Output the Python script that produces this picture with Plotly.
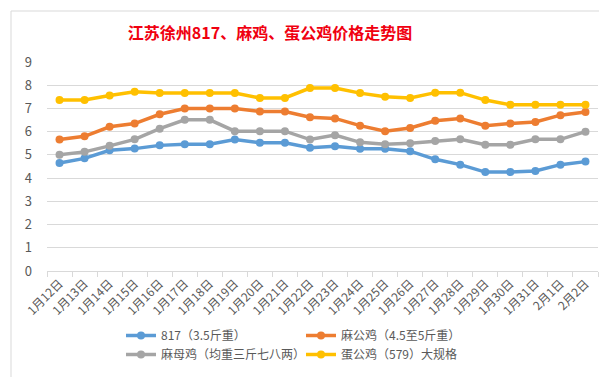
import plotly.graph_objects as go

categories = ["1月12日", "1月13日", "1月14日", "1月15日", "1月16日", "1月17日", "1月18日",
              "1月19日", "1月20日", "1月21日", "1月22日", "1月23日", "1月24日", "1月25日",
              "1月26日", "1月27日", "1月28日", "1月29日", "1月30日", "1月31日", "2月1日", "2月2日"]

s817 = [4.65, 4.85, 5.2, 5.27, 5.41, 5.46, 5.46, 5.66, 5.52, 5.52, 5.31, 5.37, 5.26, 5.26,
        5.16, 4.81, 4.58, 4.26, 4.26, 4.31, 4.58, 4.71]
ma_gong = [5.66, 5.8, 6.21, 6.35, 6.75, 7.0, 7.0, 7.0, 6.87, 6.87, 6.62, 6.57, 6.26, 6.02,
           6.16, 6.47, 6.57, 6.26, 6.35, 6.42, 6.71, 6.85]
ma_mu = [5.01, 5.13, 5.39, 5.67, 6.13, 6.51, 6.51, 6.02, 6.02, 6.02, 5.66, 5.85, 5.54, 5.46,
         5.5, 5.6, 5.67, 5.44, 5.44, 5.67, 5.67, 6.0]
dan_gong = [7.36, 7.36, 7.56, 7.72, 7.66, 7.66, 7.66, 7.66, 7.45, 7.45, 7.88, 7.88, 7.66, 7.5,
            7.45, 7.68, 7.68, 7.36, 7.16, 7.16, 7.16, 7.16]

names = ["817（3.5斤重）", "麻公鸡（4.5至5斤重）", "麻母鸡（均重三斤七八两）", "蛋公鸡（579）大规格"]
colors = ["#5B9BD5", "#ED7D31", "#A5A5A5", "#FFC000"]
legends = ["legend", "legend2", "legend", "legend2"]
series = [s817, ma_gong, ma_mu, dan_gong]

fig = go.Figure()
for name, vals, col, lg in zip(names, series, colors, legends):
    fig.add_trace(go.Scatter(
        x=categories, y=vals, name=name, mode="lines+markers",
        line=dict(color=col, width=3.5),
        marker=dict(color=col, size=8),
        legend=lg,
    ))

font_family = "Noto Sans CJK SC, Microsoft YaHei, sans-serif"
legend_common = dict(
    orientation="v", xref="container", yref="container",
    xanchor="left", yanchor="top", traceorder="normal",
    font=dict(family=font_family, size=12, color="#595959"),
    itemwidth=30, bgcolor="rgba(0,0,0,0)", tracegroupgap=0,
)

fig.update_layout(
    width=607, height=377,
    paper_bgcolor="white", plot_bgcolor="white",
    margin=dict(l=39, r=17, t=54, b=114, autoexpand=False),
    title=dict(
        text="<b>江苏徐州817、麻鸡、蛋公鸡价格走势图</b>",
        font=dict(family=font_family, size=16, color="#F00010"),
        x=262 / 607, xanchor="center", xref="container",
        y=1 - 25 / 377, yanchor="middle", yref="container",
    ),
    legend=dict(x=113 / 607, y=1 - 313 / 377, **legend_common),
    legend2=dict(x=293 / 607, y=1 - 313 / 377, **legend_common),
    font=dict(family=font_family, color="#595959"),
    xaxis=dict(
        type="category", range=[-0.5, 21.5],
        tickson="boundaries", ticks="outside", ticklen=5, tickcolor="#D9D9D9",
        showline=True, linecolor="#D9D9D9", linewidth=1,
        showgrid=False, tickangle=-45,
        tickfont=dict(size=12, color="#595959"),
    ),
    yaxis=dict(
        range=[0, 9], dtick=1, showgrid=True, gridcolor="#D9D9D9", gridwidth=1,
        zeroline=False, showline=False, ticks="",
        ticklabelstandoff=14,
        tickfont=dict(size=13, color="#595959"),
    ),
    shapes=[dict(
        type="rect", xref="paper", yref="paper",
        x0=(3 - 39) / 551, x1=(600 - 39) / 551,
        y0=(263 - 373) / 209, y1=(263 - 3) / 209,
        line=dict(color="#D9D9D9", width=1), fillcolor="rgba(0,0,0,0)", layer="below",
    )],
)

fig.write_html("out.html")
